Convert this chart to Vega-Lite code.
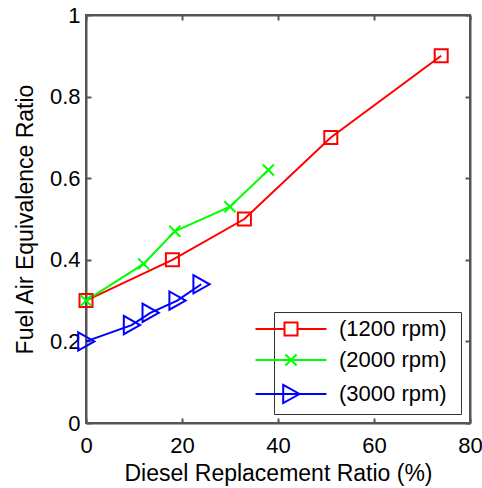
{
  "$schema": "https://vega.github.io/schema/vega-lite/v6.json",
  "width": 384,
  "height": 408,
  "autosize": "none",
  "padding": {"left": 86, "top": 15, "right": 12, "bottom": 65},
  "background": "white",
  "config": {
    "view": {"stroke": null},
    "font": "Liberation Sans",
    "axis": {
      "domain": true,
      "ticks": true,
      "domainColor": "#555555",
      "tickColor": "#555555",
      "zindex": 1,
      "grid": false,
      "labelFont": "Liberation Sans",
      "labelFontSize": 22,
      "labelColor": "black",
      "labelFlush": false,
      "titleFont": "Liberation Sans",
      "titleFontSize": 23,
      "titleFontWeight": "normal",
      "titleColor": "black",
      "tickSize": -5,
      "domainWidth": 2,
      "tickWidth": 2
    },
    "legend": {
      "orient": "bottom-right",
      "offset": 9,
      "strokeColor": "#333333",
      "fillColor": "white",
      "padding": 6,
      "labelFont": "Liberation Sans",
      "labelFontSize": 22,
      "labelColor": "black",
      "symbolSize": 169,
      "symbolStrokeWidth": 2,
      "symbolFillColor": "transparent",
      "symbolOpacity": 1,
      "rowPadding": 9,
      "labelOffset": 37,
      "symbolOffset": 0
    }
  },
  "data": {
    "values": [
      {"series": "(1200 rpm)", "x": 0, "y": 0.3},
      {"series": "(1200 rpm)", "x": 18, "y": 0.4},
      {"series": "(1200 rpm)", "x": 33, "y": 0.5},
      {"series": "(1200 rpm)", "x": 51, "y": 0.7},
      {"series": "(1200 rpm)", "x": 74, "y": 0.9},
      {"series": "(2000 rpm)", "x": 0, "y": 0.3},
      {"series": "(2000 rpm)", "x": 12, "y": 0.39},
      {"series": "(2000 rpm)", "x": 18.5, "y": 0.47},
      {"series": "(2000 rpm)", "x": 30, "y": 0.53},
      {"series": "(2000 rpm)", "x": 38, "y": 0.62},
      {"series": "(3000 rpm)", "x": 0, "y": 0.2},
      {"series": "(3000 rpm)", "x": 9.5, "y": 0.24},
      {"series": "(3000 rpm)", "x": 13.4, "y": 0.27},
      {"series": "(3000 rpm)", "x": 19, "y": 0.3},
      {"series": "(3000 rpm)", "x": 24, "y": 0.34}
    ]
  },
  "layer": [
    {
      "mark": {"type": "rect", "fill": "transparent", "stroke": "#555555", "strokeWidth": 2},
      "encoding": {
        "x": {"datum": 0, "type": "quantitative", "scale": {"domain": [0, 80], "nice": false, "zero": false},
          "axis": {"orient": "bottom", "values": [0, 20, 40, 60, 80], "title": "Diesel Replacement Ratio (%)", "labelPadding": 17, "titlePadding": 6}},
        "x2": {"datum": 80},
        "y": {"datum": 0, "type": "quantitative", "scale": {"domain": [0, 1], "nice": false, "zero": false},
          "axis": {"orient": "left", "values": [0, 0.2, 0.4, 0.6, 0.8, 1], "format": "~g", "title": "Fuel Air Equivalence Ratio", "labelPadding": 11, "titlePadding": 12}},
        "y2": {"datum": 1}
      }
    },
    {
      "mark": {"type": "line", "strokeWidth": 2},
      "encoding": {
        "x": {"field": "x", "type": "quantitative", "axis": null},
        "y": {"field": "y", "type": "quantitative", "axis": null},
        "color": {"field": "series", "type": "nominal",
          "scale": {"domain": ["(1200 rpm)", "(2000 rpm)", "(3000 rpm)"], "range": ["#ff0000", "#00ff00", "#0000ff"]},
          "legend": {"title": null}}
      }
    },
    {
      "transform": [{"filter": "datum.series == '(1200 rpm)'"}],
      "mark": {"type": "point", "filled": false, "strokeWidth": 2, "size": 169, "opacity": 1, "shape": "M-1,-1H1V1H-1Z"},
      "encoding": {
        "x": {"field": "x", "type": "quantitative", "axis": null},
        "y": {"field": "y", "type": "quantitative", "axis": null},
        "color": {"field": "series", "type": "nominal", "legend": {"title": null}}
      }
    },
    {
      "transform": [{"filter": "datum.series == '(2000 rpm)'"}],
      "mark": {"type": "point", "filled": false, "strokeWidth": 2, "size": 169, "opacity": 1, "shape": "M-0.85,-0.85L0.85,0.85M-0.85,0.85L0.85,-0.85"},
      "encoding": {
        "x": {"field": "x", "type": "quantitative", "axis": null},
        "y": {"field": "y", "type": "quantitative", "axis": null},
        "color": {"field": "series", "type": "nominal", "legend": {"title": null}}
      }
    },
    {
      "transform": [{"filter": "datum.series == '(3000 rpm)'"}],
      "mark": {"type": "point", "filled": false, "strokeWidth": 2, "size": 169, "opacity": 1, "shape": "M-1.2,-1.4L1.3,0L-1.2,1.4Z"},
      "encoding": {
        "x": {"field": "x", "type": "quantitative", "axis": null},
        "y": {"field": "y", "type": "quantitative", "axis": null},
        "color": {"field": "series", "type": "nominal", "legend": {"title": null}}
      }
    },
    {
      "mark": {"type": "point", "filled": false, "size": 0, "strokeWidth": 2},
      "encoding": {
        "x": {"field": "x", "type": "quantitative",
          "axis": {"orient": "top", "values": [0, 20, 40, 60, 80], "labels": false, "title": null}},
        "y": {"field": "y", "type": "quantitative",
          "axis": {"orient": "right", "values": [0, 0.2, 0.4, 0.6, 0.8, 1], "labels": false, "title": null}},
        "color": {"field": "series", "type": "nominal", "legend": {"title": null}},
        "shape": {"field": "series", "type": "nominal",
          "scale": {"domain": ["(1200 rpm)", "(2000 rpm)", "(3000 rpm)"],
            "range": ["M-6.7,0M-5.46,0H-1M1,0H5.46M-1,-1H1V1H-1ZM24.6,0", "M-6.7,0M-5.46,0H5.46M-0.85,-0.85L0.85,0.85M-0.85,0.85L0.85,-0.85M24.6,0", "M-6.7,0M-5.46,0H5.46M-1.2,-1.4L1.3,0L-1.2,1.4ZM24.6,0"]},
          "legend": {"title": null}}
      }
    }
  ],
  "resolve": {"axis": {"x": "independent", "y": "independent"}}
}
